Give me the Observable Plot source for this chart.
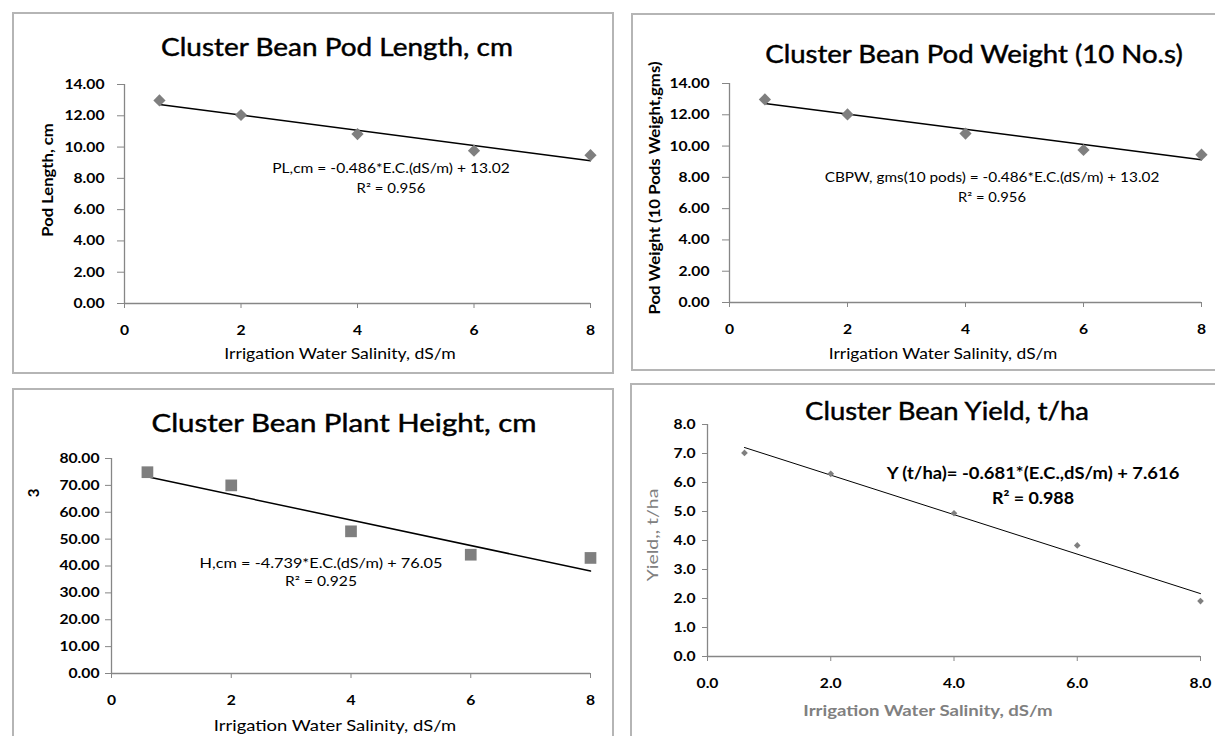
<!DOCTYPE html>
<html><head><meta charset="utf-8">
<script src="https://cdn.jsdelivr.net/npm/d3@7"></script>
<script src="https://cdn.jsdelivr.net/npm/@observablehq/plot@0.6"></script>
<style>
html,body{margin:0;padding:0;width:1215px;height:736px;overflow:hidden;background:#fff;font-family:Lato,"Open Sans",sans-serif;}
#root{position:relative;width:1215px;height:736px;overflow:hidden;}
.box{position:absolute;border:2px solid #b5b5b5;box-sizing:border-box;}
.lbl{position:absolute;white-space:nowrap;line-height:1;color:#000;}
.ttl{-webkit-text-stroke:0.45px #000;}
.plot{position:absolute;}
</style></head><body>
<div id="root"></div>
<script>
// ---- data ----
const salinity = [0.6, 2, 4, 6, 8];
const podLength = [12.98, 12.05, 10.83, 9.77, 9.48];
const podWeight = [12.98, 12.02, 10.80, 9.75, 9.45];
const plantHeight = [74.9, 70.0, 52.9, 44.2, 43.0];
const yieldTha = [7.02, 6.30, 4.94, 3.83, 1.91];
const trendSlope = [-0.486, -0.486, -4.739, -0.681];
const trendIntercept = [13.02, 13.02, 76.05, 7.616];
const titles = ["Cluster Bean Pod Length, cm", "Cluster Bean Pod Weight (10 No.s)", "Cluster Bean Plant Height, cm", "Cluster Bean Yield, t/ha"];
const yLabels = ["Pod Length, cm", "Pod Weight (10 Pods Weight,gms)", "3", "Yield,, t/ha"];
const xLabel = "Irrigation Water Salinity, dS/m";
const equations = ["PL,cm = -0.486*E.C.(dS/m) + 13.02", "CBPW, gms(10 pods) = -0.486*E.C.(dS/m) + 13.02", "H,cm = -4.739*E.C.(dS/m) + 76.05", "Y (t/ha)= -0.681*(E.C.,dS/m) + 7.616"];
const r2Labels = ["R² = 0.956", "R² = 0.956", "R² = 0.925", "R² = 0.988"];
const xTicks = [0, 2, 4, 6, 8];
const yTicksPod = [0, 2, 4, 6, 8, 10, 12, 14];
const yTicksHeight = [0, 10, 20, 30, 40, 50, 60, 70, 80];
const yTicksYield = [0, 1, 2, 3, 4, 5, 6, 7, 8];
const series = [podLength, podWeight, plantHeight, yieldTha];

// ---- layout (pixel positions, sizes, target text widths) ----
const layout = [
  {box:[12,12,602,362], x0:124, x8:590, yb:303, yt:84, ymax:14, ticks:yTicksPod, fmt:2, xfmt:0, ytpad:13, ytsize:7,
   title:[337,46,25,352], ylab:[47,180,15,true,"#000",114], xlab:[340,353,15,false,"#000",231],
   eq:[391,168,13,false,237], r2:[391,188,13,false,69], sym:"diamond2", r:5.5, lw:1.5},
  {box:[631,13,600,358], x0:729, x8:1201, yb:302, yt:83, ymax:14, ticks:yTicksPod, fmt:2, xfmt:0, ytpad:13, ytsize:7,
   title:[974,53,25,418], ylab:[654,188,15,true,"#000",253], xlab:[943,353,15,false,"#000",228],
   eq:[992,177,13,false,335], r2:[992,197,13,false,68], sym:"diamond2", r:5.5, lw:1.5},
  {box:[12,388,602,360], x0:111, x8:590, yb:673, yt:458, ymax:80, ticks:yTicksHeight, fmt:2, xfmt:0, ytpad:6, ytsize:6,
   title:[344,422,25,385], ylab:[33,493,15,true,"#000",0], xlab:[335,725,15,false,"#000",242],
   eq:[321,563,13,false,243], r2:[321,581,13,false,72], sym:"square", r:6.6, lw:1.5},
  {box:[630,383,600,365], x0:707, x8:1200, yb:656, yt:424, ymax:8, ticks:yTicksYield, fmt:1, xfmt:1, ytpad:7, ytsize:5,
   title:[947,410,25,284], ylab:[652,535,15,false,"#808080",92], xlab:[928,710,15,true,"#808080",249],
   eq:[1033,472,17,true,293], r2:[1033,497,17,true,82], sym:"diamond2", r:3, lw:1}
];

const root = document.getElementById("root");
function addLabel(text, x, y, size, bold, color, rot, target, cls) {
  const d = document.createElement("div");
  d.className = "lbl" + (cls ? " " + cls : "");
  d.textContent = text;
  d.style.left = x + "px"; d.style.top = y + "px";
  d.style.fontSize = size + "px";
  d.style.fontWeight = bold ? "bold" : "normal";
  d.style.color = color || "#000";
  root.appendChild(d);
  const w = d.offsetWidth;
  const s = target ? target / w : 1;
  d.style.transform = "translate(-50%,-50%)" + (rot ? " rotate(-90deg)" : "") + " scaleX(" + s + ")";
}

layout.forEach((L, i) => {
  const [bl, bt, bw, bh] = L.box;
  const data = salinity.map((s, k) => ({x: s, y: series[i][k]}));
  const xs = [salinity[0], salinity[salinity.length - 1]];
  const trend = xs.map(x => ({x, y: trendSlope[i] * x + trendIntercept[i]}));
  const chart = Plot.plot({
    width: bw, height: bh,
    marginLeft: L.x0 - bl, marginRight: bl + bw - L.x8,
    marginTop: L.yt - bt, marginBottom: bt + bh - L.yb,
    x: {domain: [0, 8]},
    y: {domain: [0, L.ymax]},
    style: {fontFamily: "Lato, 'Open Sans', sans-serif", background: "transparent", overflow: "visible"},
    marks: [
      Plot.axisY({ticks: L.ticks, tickFormat: d => d.toFixed(L.fmt), tickSize: L.ytsize, tickPadding: L.ytpad, stroke: "#868686", fill: "#000", fontSize: 14, fontWeight: "bold", label: null}),
      Plot.axisX({ticks: xTicks, tickFormat: d => d.toFixed(L.xfmt), tickSize: 5, tickPadding: 17, stroke: "#868686", fill: "#000", fontSize: 14, fontWeight: "bold", label: null}),
      Plot.ruleX([0], {stroke: "#868686", strokeWidth: 1.3}),
      Plot.ruleY([0], {stroke: "#868686", strokeWidth: 1.3}),
      Plot.line(trend, {x: "x", y: "y", stroke: "#000", strokeWidth: L.lw}),
      Plot.dot(data, {x: "x", y: "y", symbol: L.sym, r: L.r, fill: "#7f7f7f", stroke: "none"})
    ]
  });
  chart.classList.add("plot");
  chart.style.left = bl + "px"; chart.style.top = bt + "px";
  const box = document.createElement("div");
  box.className = "box";
  box.style.left = bl + "px"; box.style.top = bt + "px";
  box.style.width = bw + "px"; box.style.height = bh + "px";
  root.appendChild(box);
  root.appendChild(chart);
  // widen tick label glyphs slightly, like the reference's stretched Calibri
  chart.querySelectorAll("g[aria-label='y-axis tick label'] text, g[aria-label='x-axis tick label'] text").forEach(t => {
    const tr = t.getAttribute("transform") || "";
    t.setAttribute("transform", tr + " scale(1.12,1)");
  });
  addLabel(titles[i], L.title[0], L.title[1], L.title[2], false, "#000", false, L.title[3], "ttl");
  addLabel(yLabels[i], L.ylab[0], L.ylab[1], L.ylab[2], L.ylab[3], L.ylab[4], true, L.ylab[5]);
  addLabel(xLabel, L.xlab[0], L.xlab[1], L.xlab[2], L.xlab[3], L.xlab[4], false, L.xlab[5]);
  addLabel(equations[i], L.eq[0], L.eq[1], L.eq[2], L.eq[3], "#000", false, L.eq[4]);
  addLabel(r2Labels[i], L.r2[0], L.r2[1], L.r2[2], L.r2[3], "#000", false, L.r2[4]);
});
</script>
</body></html>
